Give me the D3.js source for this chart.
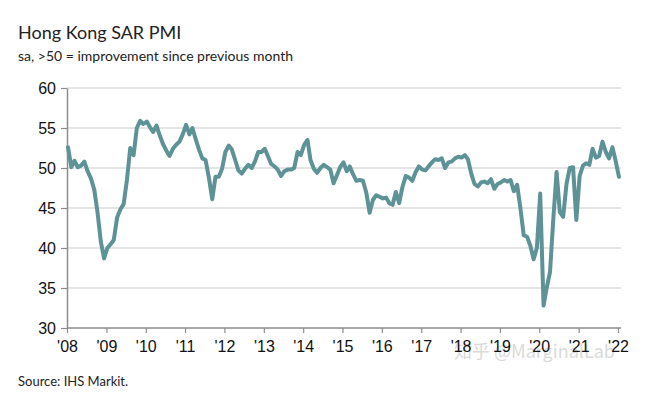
<!DOCTYPE html>
<html>
<head>
<meta charset="utf-8">
<script src="https://cdn.jsdelivr.net/npm/d3@7"></script>
<style>
  html, body { margin: 0; padding: 0; background: #fff; }
  svg { display: block; }
</style>
</head>
<body>
<div id="chart"></div>
<script>
// Monthly PMI readings, Jan 2008 - Jan 2022
const pmi2008 = [52.6, 50.1, 50.9, 50.1, 50.3, 50.8, 49.6, 48.7, 47.3, 44.5, 40.8, 38.7];
const pmi2009 = [40.0, 40.5, 41.0, 43.8, 44.8, 45.5, 48.5, 52.5, 51.6, 55.0, 55.9, 55.5];
const pmi2010 = [55.8, 55.1, 54.5, 55.3, 54.1, 53.0, 52.2, 51.5, 52.4, 52.9, 53.3, 54.2];
const pmi2011 = [55.4, 54.2, 55.0, 53.6, 52.3, 51.2, 51.0, 48.8, 46.1, 48.9, 48.9, 49.9];
const pmi2012 = [52.0, 52.8, 52.3, 51.0, 49.7, 49.3, 49.9, 50.4, 50.0, 50.8, 52.0, 52.0];
const pmi2013 = [52.4, 51.4, 50.5, 50.2, 49.8, 49.0, 49.6, 49.8, 49.8, 50.0, 52.0, 51.6];
const pmi2014 = [52.9, 53.5, 51.0, 49.9, 49.4, 50.0, 50.4, 50.1, 49.8, 48.1, 49.1, 50.1];
const pmi2015 = [50.7, 49.6, 50.2, 49.2, 48.4, 48.5, 48.4, 46.9, 44.4, 46.0, 46.6, 46.4];
const pmi2016 = [46.2, 46.3, 45.6, 45.4, 47.0, 45.6, 47.6, 49.0, 48.8, 48.4, 49.5, 50.2];
const pmi2017 = [49.8, 49.7, 50.2, 50.7, 51.1, 51.0, 51.2, 50.0, 50.7, 50.8, 51.2, 51.4];
const pmi2018 = [51.3, 51.6, 51.1, 49.3, 48.0, 47.7, 48.2, 48.3, 48.1, 48.6, 47.4, 48.0];
const pmi2019 = [48.2, 48.5, 48.3, 48.5, 47.1, 47.9, 45.0, 41.6, 41.4, 40.3, 38.6, 40.0];
const pmi2020 = [46.8, 32.8, 35.0, 37.0, 43.5, 49.5, 44.5, 43.9, 48.0, 50.0, 50.1, 43.5];
const pmi2021 = [49.0, 50.3, 50.6, 50.4, 52.4, 51.3, 51.5, 53.3, 52.0, 51.2, 52.6, 50.9];
const pmi2022 = [48.9];

const pmiByYear = [pmi2008, pmi2009, pmi2010, pmi2011, pmi2012, pmi2013, pmi2014,
  pmi2015, pmi2016, pmi2017, pmi2018, pmi2019, pmi2020, pmi2021, pmi2022];

const yTicks = [30, 35, 40, 45, 50, 55, 60];
const xTickYears = d3.range(2008, 2023);

const width = 648;
const height = 395;
const margin = { top: 88, right: 30, bottom: 67, left: 67 };
const lineColor = '#5d9296';

// Flatten into dated points
const points = [];
pmiByYear.forEach((vals, yi) => {
  vals.forEach((v, m) => {
    points.push({ date: new Date(2008 + yi, m, 10), value: v });
  });
});

const svg = d3.select('#chart')
  .append('svg')
  .attr('width', width)
  .attr('height', height);

const x = d3.scaleTime()
  .domain([new Date(2008, 0, 1), new Date(2022, 0, 1)])
  .range([margin.left, 618]);

const y = d3.scaleLinear()
  .domain([30, 60])
  .range([height - margin.bottom, margin.top]);

// Title and subtitle
svg.append('text')
  .attr('x', 18)
  .attr('y', 39)
  .style('font-family', 'Lato, "Open Sans", sans-serif')
  .style('font-size', '18px')
  .style('fill', '#222')
  .text('Hong Kong SAR PMI');

svg.append('text')
  .attr('x', 18)
  .attr('y', 61)
  .style('font-family', 'Lato, "Open Sans", sans-serif')
  .style('font-size', '14px')
  .style('fill', '#222')
  .text('sa, >50 = improvement since previous month');

// Watermark (sits behind the tick labels, as in the source image)
svg.append('text')
  .attr('x', 454)
  .attr('y', 358)
  .style('font-family', '"Noto Sans CJK SC", "Noto Sans", sans-serif')
  .style('font-size', '18px')
  .style('fill', '#dadada')
  .text('知乎 @MarginalLab');

// Gridlines
svg.append('g')
  .selectAll('line')
  .data(yTicks.filter(t => t > 30))
  .join('line')
  .attr('x1', x.range()[0])
  .attr('x2', 621)
  .attr('y1', d => y(d))
  .attr('y2', d => y(d))
  .attr('stroke', '#dcdcdc')
  .attr('stroke-width', 1.5);

// Y axis
const yAxis = svg.append('g')
  .attr('transform', `translate(${x.range()[0]},0)`)
  .call(d3.axisLeft(y).tickValues(yTicks).tickSize(6).tickSizeOuter(0).tickPadding(5));

// X axis
const xAxis = svg.append('g')
  .attr('transform', `translate(0,${y(30)})`)
  .call(d3.axisBottom(x)
    .tickValues(xTickYears.map(yr => new Date(yr, 0, 1)))
    .tickFormat(d => "'" + d3.timeFormat('%y')(d))
    .tickSize(5)
    .tickSizeOuter(0)
    .tickPadding(8));

[yAxis, xAxis].forEach(ax => {
  ax.select('.domain').attr('stroke', '#8c8c8c').attr('stroke-width', 1.5);
  ax.selectAll('.tick line').attr('stroke', '#8c8c8c').attr('stroke-width', 1.2);
  ax.selectAll('.tick text')
    .style('font-family', '"Liberation Sans", Arial, sans-serif')
    .style('font-size', '16px')
    .style('fill', '#111');
});
xAxis.select('.domain').attr('d', `M${x.range()[0]},0H621`);

// PMI line
const line = d3.line()
  .x(d => x(d.date))
  .y(d => y(d.value));

svg.append('path')
  .datum(points)
  .attr('fill', 'none')
  .attr('stroke', lineColor)
  .attr('stroke-width', 4)
  .attr('stroke-linejoin', 'round')
  .attr('stroke-linecap', 'round')
  .attr('d', line);

// Source note
svg.append('text')
  .attr('x', 18)
  .attr('y', 386)
  .style('font-family', 'Lato, "Open Sans", sans-serif')
  .style('font-size', '13px')
  .style('fill', '#222')
  .text('Source: IHS Markit.');
</script>
</body>
</html>
